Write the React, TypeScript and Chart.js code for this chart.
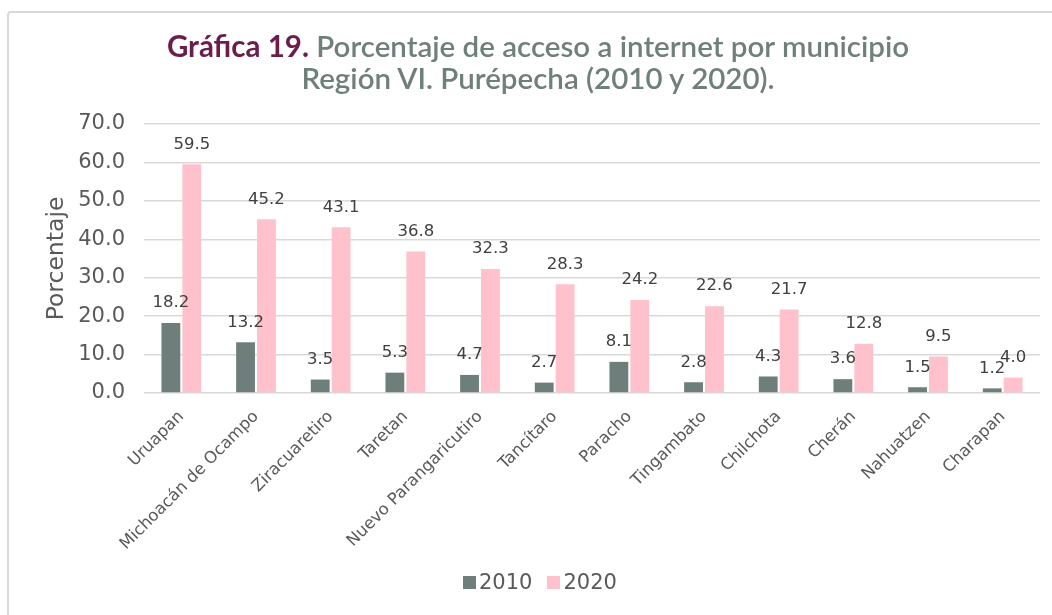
import React, { useEffect, useRef } from "react";
import { Chart, registerables } from "chart.js";

Chart.register(...registerables);

const categories = [
  "Uruapan",
  "Michoacán de Ocampo",
  "Ziracuaretiro",
  "Taretan",
  "Nuevo Parangaricutiro",
  "Tancítaro",
  "Paracho",
  "Tingambato",
  "Chilchota",
  "Cherán",
  "Nahuatzen",
  "Charapan",
];
const values2010 = [18.2, 13.2, 3.5, 5.3, 4.7, 2.7, 8.1, 2.8, 4.3, 3.6, 1.5, 1.2];
const values2020 = [59.5, 45.2, 43.1, 36.8, 32.3, 28.3, 24.2, 22.6, 21.7, 12.8, 9.5, 4.0];
const seriesLabels = ["2010", "2020"];
const seriesColors = ["#6E7E7B", "#FFC1CC"];
const yMin = 0;
const yMax = 70;
const yStep = 10;

const TITLE_FONT = "Lato, 'Noto Sans', sans-serif";
const FONT = "'DejaVu Sans', 'Noto Sans', sans-serif";
const TEXT = "#595959";

const dataLabelPlugin = {
  id: "dataLabels",
  afterDatasetsDraw(chart: any) {
    const ctx = chart.ctx;
    ctx.save();
    ctx.fillStyle = "#404040";
    ctx.font = `16.5px ${FONT}`;
    ctx.textAlign = "center";
    ctx.textBaseline = "middle";
    chart.data.datasets.forEach((ds: any, i: number) => {
      const meta = chart.getDatasetMeta(i);
      meta.data.forEach((bar: any, j: number) => {
        const v = ds.data[j];
        ctx.fillText(v.toFixed(1), bar.x, bar.y - 20);
      });
    });
    ctx.restore();
  },
};

export default function App() {
  const ref = useRef<HTMLCanvasElement>(null);

  useEffect(() => {
    if (!ref.current) return;
    const chart = new Chart(ref.current, {
      type: "bar",
      data: {
        labels: categories,
        datasets: seriesLabels.map((label, i) => ({
          label,
          data: i === 0 ? values2010 : values2020,
          backgroundColor: seriesColors[i],
          categoryPercentage: 0.56,
          barPercentage: 0.9,
        })),
      },
      options: {
        responsive: false,
        animation: false,
        devicePixelRatio: 1,
        layout: { padding: { top: 124, left: 43, right: 12, bottom: 0 } },
        plugins: {
          title: { display: false },
          tooltip: { enabled: false },
          legend: { display: false },
        },
        scales: {
          x: {
            grid: { display: false },
            border: { display: false },
            ticks: {
              font: { size: 16.5, family: FONT },
              color: TEXT,
              minRotation: 45,
              maxRotation: 45,
              padding: 6,
              autoSkip: false,
            },
            afterFit(scale: any) {
              scale.height = 222;
            },
          },
          y: {
            min: yMin,
            max: yMax,
            ticks: {
              stepSize: yStep,
              font: { size: 21, family: FONT },
              color: TEXT,
              padding: 19,
              callback: (v: any) => Number(v).toFixed(1),
            },
            grid: { color: "#D9D9D9", lineWidth: 1.5, drawTicks: false },
            border: { display: false },
            title: {
              display: true,
              text: "Porcentaje",
              font: { size: 23.5, family: FONT },
              color: TEXT,
              padding: 0,
            },
            afterFit(scale: any) {
              scale.width = 144 - 43;
            },
          },
        },
      },
      plugins: [dataLabelPlugin],
    });
    return () => chart.destroy();
  }, []);

  return (
    <div
      style={{
        position: "fixed",
        left: 0,
        top: 0,
        width: 1052,
        height: 615,
        background: "#fff",
        overflow: "hidden",
      }}
    >
      <div
        style={{
          position: "absolute",
          left: 7,
          top: 11,
          width: 1100,
          height: 700,
          border: "2px solid #D9D9D9",
          borderRadius: 4,
          boxSizing: "border-box",
        }}
      />
      <canvas
        ref={ref}
        width={1052}
        height={615}
        style={{ position: "absolute", left: 0, top: 0, width: 1052, height: 615 }}
      />
      <div
        style={{
          position: "absolute",
          left: 12,
          top: 30,
          width: 1052,
          textAlign: "center",
          fontFamily: TITLE_FONT,
          fontSize: 29.5,
          lineHeight: "32px",
          color: "#6F7F7C",
          fontWeight: 600,
          whiteSpace: "nowrap",
        }}
      >
        <span style={{ color: "#6B1E4A", fontWeight: 700 }}>Gráfica 19.</span> Porcentaje de
        acceso a internet por municipio
        <br />
        Región VI. Purépecha (2010 y 2020).
      </div>
      <div
        style={{
          position: "absolute",
          left: 463,
          top: 568,
          height: 28,
          display: "flex",
          alignItems: "center",
          fontFamily: FONT,
          fontSize: 21,
          color: TEXT,
          whiteSpace: "nowrap",
        }}
      >
        {seriesLabels.map((label, i) => (
          <div key={label} style={{ display: "flex", alignItems: "center", marginRight: 15 }}>
            <span
              style={{
                display: "inline-block",
                width: 13,
                height: 13,
                background: seriesColors[i],
                marginRight: 3,
              }}
            />
            <span>{label}</span>
          </div>
        ))}
      </div>
    </div>
  );
}
